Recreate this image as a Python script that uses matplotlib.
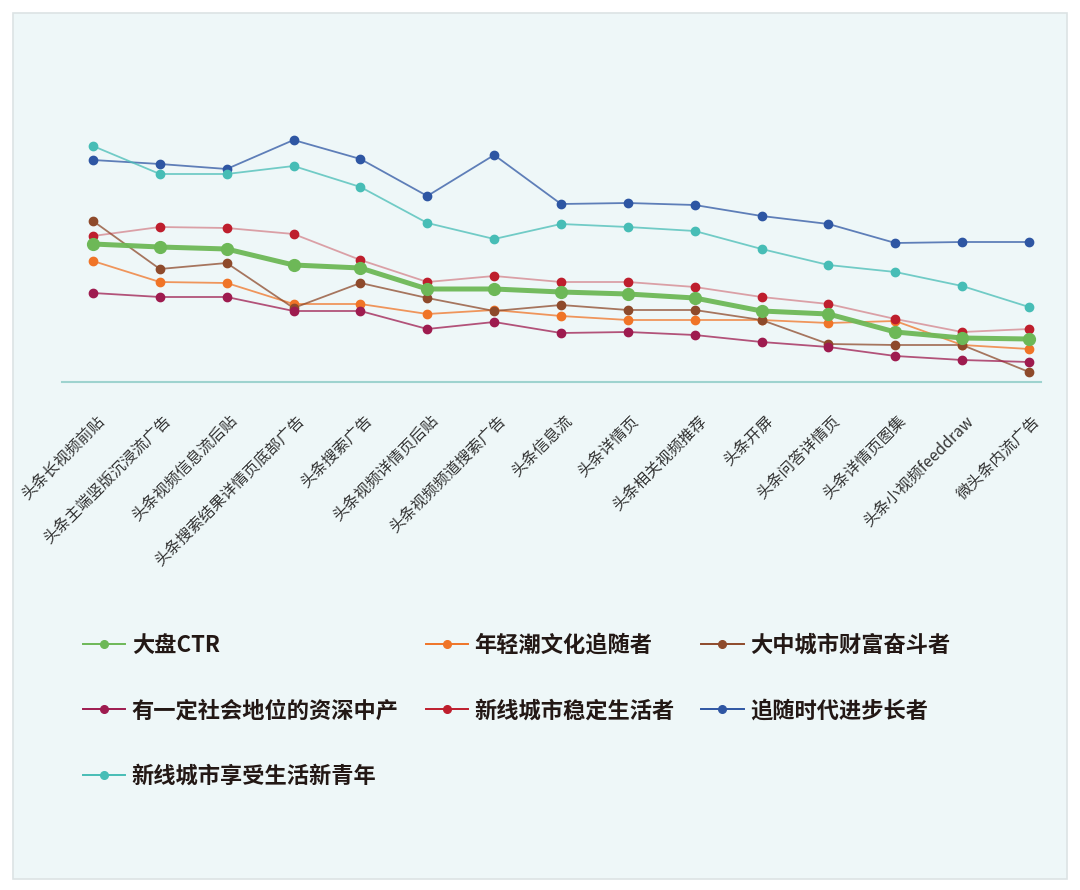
import numpy as np
import matplotlib
matplotlib.use('Agg')
import matplotlib.pyplot as plt
import matplotlib.transforms as mtransforms
from matplotlib.patches import Rectangle

plt.rcParams['font.family'] = ['Noto Sans CJK SC', 'DejaVu Sans']

# Categories (ad placements)
categories = ['头条长视频前贴', '头条主端竖版沉浸流广告', '头条视频信息流后贴', '头条搜索结果详情页底部广告',
              '头条搜索广告', '头条视频详情页后贴', '头条视频频道搜索广告', '头条信息流', '头条详情页',
              '头条相关视频推荐', '头条开屏', '头条问答详情页', '头条详情页图集', '头条小视频feeddraw',
              '微头条内流广告']

# CTR values (relative)
ctr_all = [1.38, 1.35, 1.33, 1.17, 1.14, 0.93, 0.93, 0.90, 0.88, 0.84, 0.71, 0.68, 0.50, 0.44, 0.43]
young_trend = [1.21, 1.00, 0.99, 0.78, 0.78, 0.68, 0.72, 0.66, 0.62, 0.62, 0.62, 0.59, 0.61, 0.37, 0.33]
city_strivers = [1.61, 1.13, 1.19, 0.74, 0.99, 0.84, 0.71, 0.77, 0.72, 0.72, 0.62, 0.38, 0.37, 0.37, 0.10]
senior_middle = [0.89, 0.85, 0.85, 0.71, 0.71, 0.53, 0.60, 0.49, 0.50, 0.47, 0.40, 0.35, 0.26, 0.22, 0.20]
newcity_stable = [1.46, 1.55, 1.54, 1.48, 1.22, 1.00, 1.06, 1.00, 1.00, 0.95, 0.85, 0.78, 0.63, 0.50, 0.53]
elder_progress = [2.22, 2.18, 2.13, 2.42, 2.23, 1.86, 2.27, 1.78, 1.79, 1.77, 1.66, 1.58, 1.39, 1.40, 1.40]
newcity_youth = [2.36, 2.08, 2.08, 2.16, 1.95, 1.59, 1.43, 1.58, 1.55, 1.51, 1.33, 1.17, 1.10, 0.96, 0.75]

W, H = 1080, 890
fig = plt.figure(figsize=(W / 100, H / 100), dpi=100)
fig.patch.set_facecolor('white')

# background panel
fig.patches.append(Rectangle((13 / W, 1 - 879 / H), (1067 - 13) / W, (879 - 13) / H,
                             transform=fig.transFigure, facecolor='#EEF7F8',
                             edgecolor='#DCE3E4', linewidth=1.2, zorder=-5))

ax = fig.add_axes([62 / W, 1 - 382 / H, (1041 - 62) / W, (382 - 100) / H])
ax.set_facecolor('none')
ax.set_zorder(2)

x = np.arange(len(categories))

def draw(vals, color, label, lw=1.3, ms=6.0, alpha=0.75, z=3):
    ax.plot(x, vals, color=color, lw=lw, alpha=alpha, zorder=z)
    ax.plot(x, vals, ls='none', marker='o', ms=ms, color=color, zorder=z + 0.5)
    return ax.plot([], [], color=color, lw=1.4, marker='o', ms=5.5, label=label)[0]

h_all = draw(ctr_all, '#6DB857', '大盘CTR', lw=3.6, ms=8.5, alpha=0.95, z=5)
h_young = draw(young_trend, '#F07427', '年轻潮文化追随者')
h_city = draw(city_strivers, '#8E4A2B', '大中城市财富奋斗者')
h_senior = draw(senior_middle, '#9E1B4F', '有一定社会地位的资深中产')
h_stable = draw(newcity_stable, '#BE1E2D', '新线城市稳定生活者', alpha=0.4)
h_elder = draw(elder_progress, '#2E56A3', '追随时代进步长者')
h_youth = draw(newcity_youth, '#47BDB6', '新线城市享受生活新青年')

ax.set_xlim((62 - 93) / 66.86, (1041 - 93) / 66.86)
ax.set_ylim(0, 2.82)

for s in ['top', 'right', 'left']:
    ax.spines[s].set_visible(False)
ax.spines['bottom'].set_color('#9ED3CF')
ax.spines['bottom'].set_linewidth(1.5)
ax.set_yticks([])
ax.set_xticks(x)
ax.set_xticklabels(categories, rotation=45, ha='right', rotation_mode='anchor',
                   fontsize=11.3, color='#333333')
ax.tick_params(axis='x', length=0, pad=22)
offset = mtransforms.ScaledTranslation(3 / 100, 0, fig.dpi_scale_trans)
for lab in ax.get_xticklabels():
    lab.set_transform(lab.get_transform() + offset)

handles = [h_all, h_senior, h_youth, h_young, h_stable, h_city, h_elder]
leg = fig.legend(handles=handles, labels=[h.get_label() for h in handles], ncol=3,
                 loc='upper left', bbox_to_anchor=(63 / W, 1 - 614 / H),
                 frameon=False, handlelength=1.9, handletextpad=0.3,
                 columnspacing=1.2, labelspacing=1.9,
                 prop={'size': 16, 'weight': 'bold'})
for t in leg.get_texts():
    t.set_color('#231815')

fig.savefig('out.png', dpi=100, facecolor=fig.get_facecolor())
